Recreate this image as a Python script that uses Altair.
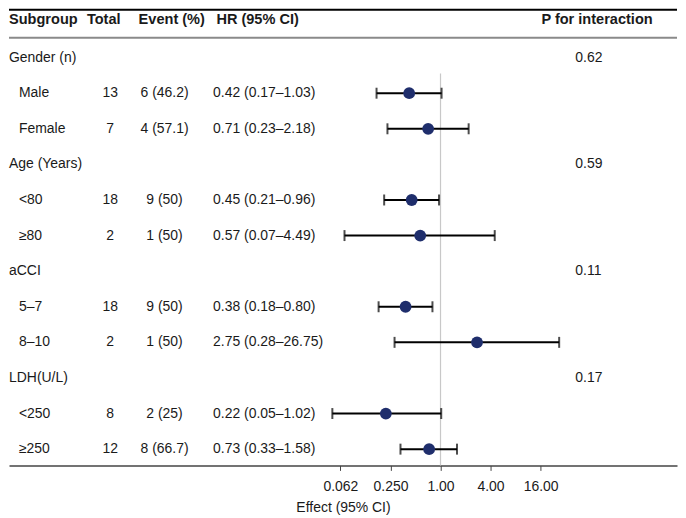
import math
import altair as alt
import pandas as pd

# ---------------- data ----------------
labels = ["Gender (n)", "Male", "Female", "Age (Years)", "<80", "≥80",
          "aCCI", "5–7", "8–10", "LDH(U/L)", "<250", "≥250"]
is_group = [1, 0, 0, 1, 0, 0, 1, 0, 0, 1, 0, 0]
totals = ["", "13", "7", "", "18", "2", "", "18", "2", "", "8", "12"]
events = ["", "6 (46.2)", "4 (57.1)", "", "9 (50)", "1 (50)", "",
          "9 (50)", "1 (50)", "", "2 (25)", "8 (66.7)"]
hr = [None, 0.42, 0.71, None, 0.45, 0.57, None, 0.38, 2.75, None, 0.22, 0.73]
ci_low = [None, 0.17, 0.23, None, 0.21, 0.07, None, 0.18, 0.28, None, 0.05, 0.33]
ci_high = [None, 1.03, 2.18, None, 0.96, 4.49, None, 0.80, 26.75, None, 1.02, 1.58]
p_interaction = ["0.62", "", "", "0.59", "", "", "0.11", "", "", "0.17", "", ""]
headers = ["Subgroup", "Total", "Event (%)", "HR (95% CI)", "P for interaction"]
tick_values = [0.0625, 0.25, 1, 4, 16]
tick_labels = ["0.062", "0.250", "1.00", "4.00", "16.00"]
axis_title = "Effect (95% CI)"

# ---------------- layout constants ----------------
W, H = 670, 458
FONT = "Liberation Sans"
FS = 14
HFS = 14.6
TXT = "#1a1a1a"
DOT = "#1f2e6c"
PITCH = 35.7
ROW0 = 49.0
Y_DOMAIN = [-ROW0 / PITCH, (H - ROW0) / PITCH]
X_ONE = 432.8
PX_PER_DOUBLING = 25.1
X_DOMAIN = [2 ** (-X_ONE / PX_PER_DOUBLING), 2 ** ((W - X_ONE) / PX_PER_DOUBLING)]

rows = list(range(len(labels)))
df = pd.DataFrame({
    "row": rows,
    "label": labels,
    "group": is_group,
    "total": totals,
    "event": events,
    "hr": hr,
    "lo": ci_low,
    "hi": ci_high,
    "p": p_interaction,
})
df["hrtxt"] = [
    f"{h:.2f} ({l:.2f}–{u:.2f})" if h is not None else ""
    for h, l, u in zip(hr, ci_low, ci_high)
]
est = df[df["hr"].notna()].copy()

yenc = alt.Y("row:Q", scale=alt.Scale(domain=Y_DOMAIN, reverse=True, nice=False, zero=False), axis=None)
xscale = alt.Scale(type="log", base=2, domain=X_DOMAIN, nice=False)

label_expr = " : ".join(
    f"datum.value == {v} ? '{t}'" for v, t in zip(tick_values, tick_labels)
) + " : ''"

base_est = alt.Chart(est)

def text_layer(data, field, x, align, filt=None, weight="normal"):
    c = alt.Chart(data).mark_text(align=align, baseline="middle", font=FONT,
                                   fontSize=FS, color=TXT, fontWeight=weight)
    if filt is not None:
        c = c.transform_filter(filt)
    return c.encode(x=alt.value(x), y=yenc, text=f"{field}:N")

# header row
hdr_layers = []
for h, x, a in zip(headers, [0, 95, 130, 208, 534], ["left", "center", "left", "left", "left"]):
    hdr_layers.append(
        alt.Chart(pd.DataFrame({"h": [h]})).mark_text(
            align=a, baseline="middle", font=FONT, fontSize=HFS, fontWeight="bold", color=TXT
        ).encode(x=alt.value(x), y=alt.value(11), text="h:N")
    )

line_df = pd.DataFrame({"k": [0]})
top_line = alt.Chart(line_df).mark_rule(color="#000000", strokeWidth=2).encode(
    x=alt.value(0), x2=alt.value(W), y=alt.value(1))
hdr_line = alt.Chart(line_df).mark_rule(color="#8a8a8a", strokeWidth=2).encode(
    x=alt.value(0), x2=alt.value(W), y=alt.value(29))

ref_line = alt.Chart(line_df).mark_rule(color="#c8c8c8", strokeWidth=1.2).encode(
    x=alt.X(datum=1, scale=xscale, axis=alt.Axis(
        values=tick_values, labelExpr=label_expr, title=axis_title, grid=False,
        domainColor="#444444", domainWidth=1.5, tickColor="#444444", tickWidth=1,
        tickSize=5, labelFont=FONT, labelFontSize=FS, labelColor=TXT, labelPadding=9,
        titleFont=FONT, titleFontSize=FS, titleFontWeight="normal", titleColor=TXT,
        titlePadding=7, labelFlush=False, labelOverlap=False)),
    y=alt.value(65), y2=alt.value(H))

whisk = base_est.mark_rule(color="#000000", strokeWidth=2).encode(
    x=alt.X("lo:Q", scale=xscale), x2="hi:Q", y=yenc)
cap_lo = base_est.mark_tick(orient="vertical", size=11, thickness=2, color="#000000").encode(
    x=alt.X("lo:Q", scale=xscale), y=yenc)
cap_hi = base_est.mark_tick(orient="vertical", size=11, thickness=2, color="#000000").encode(
    x=alt.X("hi:Q", scale=xscale), y=yenc)
dots = base_est.mark_circle(size=140, color=DOT, opacity=1).encode(
    x=alt.X("hr:Q", scale=xscale), y=yenc)

grp_txt = text_layer(df, "label", 0, "left", filt="datum.group == 1")
sub_txt = text_layer(df, "label", 10, "left", filt="datum.group == 0")
tot_txt = text_layer(df, "total", 101.5, "center", filt="datum.total != ''")
evt_txt = text_layer(df, "event", 156, "center", filt="datum.event != ''")
hr_txt = text_layer(df, "hrtxt", 204.7, "left", filt="datum.hrtxt != ''")
p_txt = text_layer(df, "p", 568, "left", filt="datum.p != ''")

chart = alt.layer(
    ref_line, top_line, hdr_line, *hdr_layers,
    grp_txt, sub_txt, tot_txt, evt_txt, hr_txt, p_txt,
    whisk, cap_lo, cap_hi, dots,
).properties(width=W, height=H, padding=0).configure_view(stroke=None)

chart.save("out.html", embed_options={"renderer": "svg", "actions": False})
